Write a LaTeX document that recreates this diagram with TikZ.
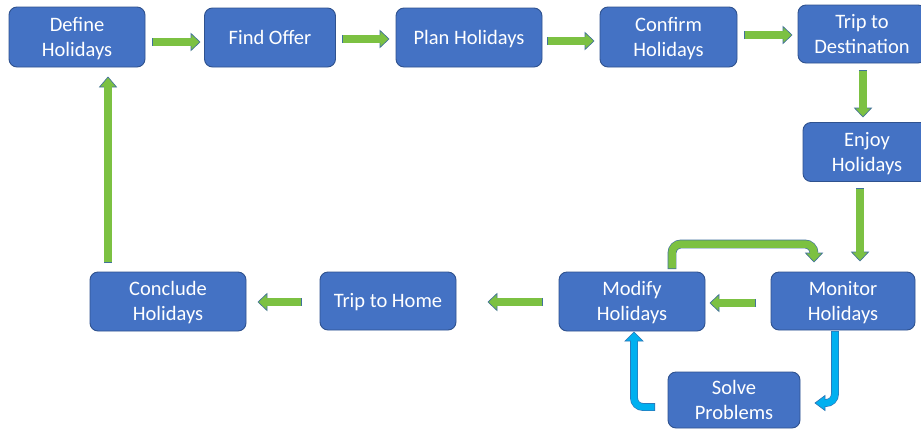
\documentclass[tikz,border=0pt]{standalone}
\usepackage{fontspec}
\setmainfont{Carlito}
\usetikzlibrary{calc}
\definecolor{boxblue}{HTML}{4472C4}
\definecolor{boxedge}{HTML}{2F528F}
\definecolor{agreen}{HTML}{7CC142}
\definecolor{aedge}{HTML}{41719C}
\definecolor{ablue}{HTML}{00B0F0}
\definecolor{abedge}{HTML}{2E75B6}
\tikzset{
  box/.style={rectangle, rounded corners=8pt, fill=boxblue, draw=boxedge, line width=0.9pt,
    text=white, align=center, inner sep=0pt, text depth=1pt, font=\fontsize{20.5}{25}\selectfont},
}
% #1 fill colour, #2 outline colour, #3 shaft width, #4 shaft path, #5 head base, #6 tip, #7 head half width
\newcommand\blockarrow[7]{%
  \draw[line width=#3+1.3pt, draw=#2, rounded corners=9pt] #4;
  \filldraw[fill=#1, draw=#2, line width=0.65pt, line join=miter]
    ($(#5)!#7!90:(#6)$) -- (#6) -- ($(#5)!#7!-90:(#6)$) -- cycle;
  \draw[line width=#3, draw=#1, rounded corners=9pt, shorten >=-1.2pt, shorten <=0.65pt] #4;
}
\begin{document}
\begin{tikzpicture}[x=1pt,y=-1pt]
\clip (0,0) rectangle (921,429);
\fill[white] (0,0) rectangle (921,429);
% nodes
\node[box, minimum width=136pt, minimum height=60pt] (def) at (77,37) {Define\\Holidays};
\node[box, minimum width=131pt, minimum height=59pt] (find) at (270,37.5) {Find Offer};
\node[box, minimum width=146pt, minimum height=59pt] (plan) at (469,37.5) {Plan Holidays};
\node[box, minimum width=137pt, minimum height=60pt] (conf) at (668.5,37) {Confirm\\Holidays};
\node[box, minimum width=128pt, minimum height=58pt] (tdest) at (862,34) {Trip to\\Destination};
\node[box, minimum width=128pt, minimum height=59pt] (enjoy) at (867,152) {Enjoy\\Holidays};
\node[box, minimum width=144pt, minimum height=58pt] (mon) at (843,301) {Monitor\\Holidays};
\node[box, minimum width=146pt, minimum height=59pt] (mod) at (632,301.5) {Modify\\Holidays};
\node[box, minimum width=136pt, minimum height=58pt] (thome) at (388,301) {Trip to Home};
\node[box, minimum width=156pt, minimum height=59pt] (concl) at (168,301.5) {Conclude\\Holidays};
\node[box, minimum width=132pt, minimum height=56pt] (solve) at (734,400) {Solve\\Problems};
% connector coordinates
\coordinate (a1t) at (152,42); \coordinate (a1b) at (191,42); \coordinate (a1h) at (200,42);
\coordinate (a2t) at (342,39); \coordinate (a2b) at (380,39); \coordinate (a2h) at (389,39);
\coordinate (a3t) at (547,41); \coordinate (a3b) at (585,41); \coordinate (a3h) at (594,41);
\coordinate (a4t) at (744,35); \coordinate (a4b) at (783,35); \coordinate (a4h) at (792,35);
\coordinate (a5t) at (863,70); \coordinate (a5b) at (863,108); \coordinate (a5h) at (863,117);
\coordinate (a6t) at (860,188); \coordinate (a6b) at (860,252); \coordinate (a6h) at (860,261);
\coordinate (a7t) at (756,303); \coordinate (a7b) at (719,303); \coordinate (a7h) at (710,303);
\coordinate (a8t) at (543,302); \coordinate (a8b) at (497,302); \coordinate (a8h) at (488,302);
\coordinate (a9t) at (302,302); \coordinate (a9b) at (267,302); \coordinate (a9h) at (258,302);
\coordinate (a10t) at (108,263); \coordinate (a10b) at (108,87); \coordinate (a10h) at (108,77);
\coordinate (a11t) at (672,269); \coordinate (a11c) at (814,244); \coordinate (a11b) at (814,253); \coordinate (a11h) at (814,262);
\coordinate (b1t) at (835,331); \coordinate (b1c) at (835,403); \coordinate (b1b) at (825,403); \coordinate (b1h) at (815,403);
\coordinate (b2t) at (655,407); \coordinate (b2c) at (634,407); \coordinate (b2b) at (634,341); \coordinate (b2h) at (634,332);
% arrows
\blockarrow{agreen}{aedge}{7.5pt}{(a1t) -- (a1b)}{a1b}{a1h}{8.5pt}
\blockarrow{agreen}{aedge}{7.5pt}{(a2t) -- (a2b)}{a2b}{a2h}{8.5pt}
\blockarrow{agreen}{aedge}{7.5pt}{(a3t) -- (a3b)}{a3b}{a3h}{8.5pt}
\blockarrow{agreen}{aedge}{7.5pt}{(a4t) -- (a4b)}{a4b}{a4h}{8.5pt}
\blockarrow{agreen}{aedge}{7.5pt}{(a5t) -- (a5b)}{a5b}{a5h}{8.5pt}
\blockarrow{agreen}{aedge}{7.5pt}{(a6t) -- (a6b)}{a6b}{a6h}{8.5pt}
\blockarrow{agreen}{aedge}{7.5pt}{(a7t) -- (a7b)}{a7b}{a7h}{8.5pt}
\blockarrow{agreen}{aedge}{7.5pt}{(a8t) -- (a8b)}{a8b}{a8h}{8.5pt}
\blockarrow{agreen}{aedge}{7.5pt}{(a9t) -- (a9b)}{a9b}{a9h}{8.5pt}
\blockarrow{agreen}{aedge}{7.5pt}{(a10t) -- (a10b)}{a10b}{a10h}{8.5pt}
\blockarrow{agreen}{aedge}{7.5pt}{(a11t) |- (a11c) -- (a11b)}{a11b}{a11h}{8.5pt}
\blockarrow{ablue}{abedge}{6.5pt}{(b1t) -- (b1c) -- (b1b)}{b1b}{b1h}{7.5pt}
\blockarrow{ablue}{abedge}{6.5pt}{(b2t) -- (b2c) -- (b2b)}{b2b}{b2h}{9pt}
\end{tikzpicture}
\end{document}
